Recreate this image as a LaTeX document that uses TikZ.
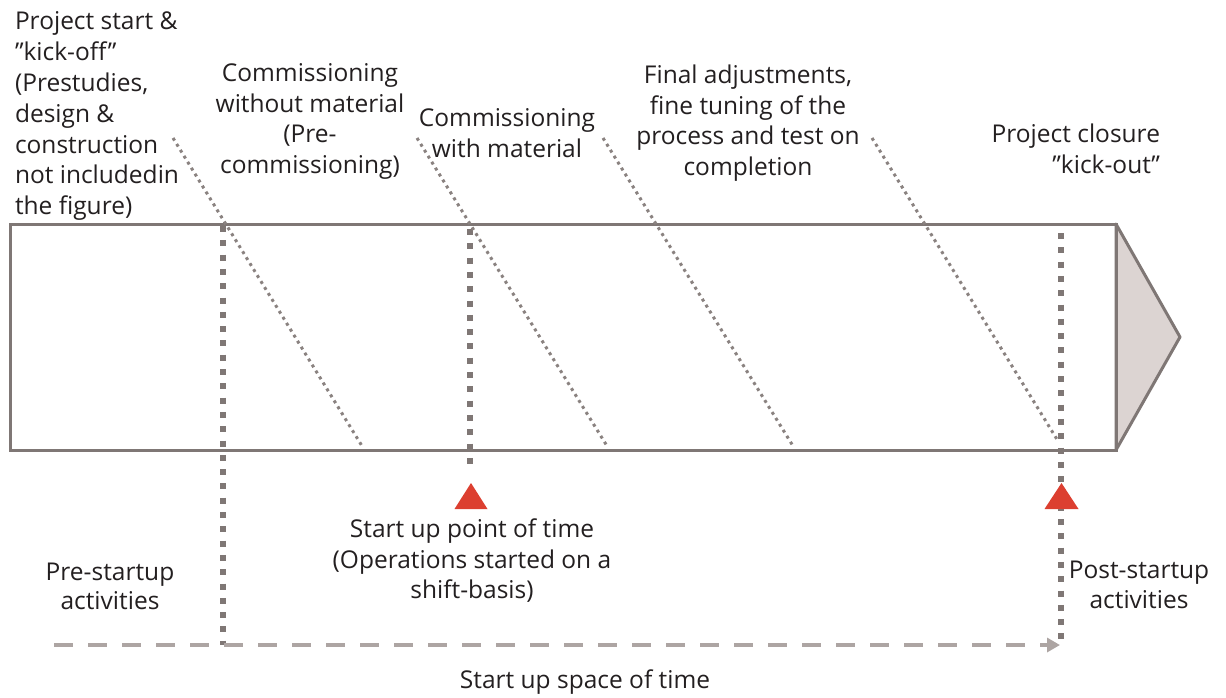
\documentclass[tikz,border=0pt]{standalone}
\usepackage{fontspec}
\setmainfont{Open Sans}
\usetikzlibrary{arrows.meta}
\definecolor{framec}{HTML}{7F7775}
\definecolor{fillg}{HTML}{DCD4D2}
\definecolor{dashc}{HTML}{ADA5A3}
\definecolor{diagc}{HTML}{8A8280}
\definecolor{redm}{HTML}{DC3F30}
\definecolor{txtc}{HTML}{231F20}
\begin{document}
\begin{tikzpicture}[x=1pt,y=-1pt,
  lbl/.style={inner sep=0pt, outer sep=0pt, text=txtc, font=\fontsize{24.5}{30.5}\selectfont, align=center},
  boxline/.style={draw=framec, line width=3pt},
  milestone/.style={draw=framec, line width=6pt, dash pattern=on 6pt off 8.3pt},
  phase/.style={draw=diagc, line width=3pt, dash pattern=on 3pt off 4pt},
  timeline/.style={draw=dashc, line width=4.5pt, dash pattern=on 19pt off 15pt, -{Triangle[length=13pt,width=14pt]}},
  marker/.style={fill=redm}]
\useasboundingbox (0,0) rectangle (1226,697);

% main bar
\coordinate (tl) at (10,224);
\coordinate (br) at (1116,450);
\coordinate (tr) at (1116,224);
\coordinate (tip) at (1180,337);
\coordinate (brr) at (1116,450);
\draw[boxline, fill=fillg, line join=round] (tr) -- (tip) -- (brr) -- cycle;
\draw[boxline] (tl) rectangle (br);

% milestone lines
\coordinate (m1t) at (223,226);
\coordinate (m1b) at (223,645);
\coordinate (m2t) at (470,229);
\coordinate (m2b) at (470,470);
\coordinate (m3t) at (1061,233);
\coordinate (m3b) at (1061,642);
\draw[milestone] (m1t) -- (m1b);
\draw[milestone] (m2t) -- (m2b);
\draw[milestone] (m3t) -- (m3b);

% phase diagonals
\coordinate (d1a) at (173,138);
\coordinate (d1b) at (362,446);
\coordinate (d2a) at (417,138);
\coordinate (d2b) at (607,446);
\coordinate (d3a) at (603,138);
\coordinate (d3b) at (793,446);
\coordinate (d4a) at (872,138);
\coordinate (d4b) at (1058,441);
\draw[phase] (d1a) -- (d1b);
\draw[phase] (d2a) -- (d2b);
\draw[phase] (d3a) -- (d3b);
\draw[phase] (d4a) -- (d4b);

% red triangles
\coordinate (r1) at (471,483);
\coordinate (r2) at (1061.5,483);
\fill[marker] (r1) -- ++(16.5,26) -- ++(-33,0) -- cycle;
\fill[marker] (r2) -- ++(17,26) -- ++(-34,0) -- cycle;

% timeline
\coordinate (ts) at (54,645);
\coordinate (te) at (1060,645);
\draw[timeline] (ts) -- (te);

% texts
\node[lbl, align=left, anchor=north west, font=\fontsize{24.5}{30.8}\selectfont] (tstart) at (15,12)
  {Project start \&\\”kick-off”\\(Prestudies,\\design \&\\construction\\not includedin\\the figure)};
\node[lbl, anchor=north] (twithout) at (310,64)
  {Commissioning\\without material\\(Pre-\\commissioning)};
\node[lbl, anchor=north] (twith) at (507,109)
  {Commissioning\\with material};
\node[lbl, anchor=north] (tfinal) at (748,65)
  {Final adjustments,\\fine tuning of the\\process and test on\\completion};
\node[lbl, align=right, anchor=north east] (tclose) at (1160,124)
  {Project closure\\”kick-out”};
\node[lbl, anchor=north] (tpoint) at (472,519)
  {Start up point of time\\(Operations started on a\\shift-basis)};
\node[lbl, anchor=north, font=\fontsize{24.5}{29}\selectfont] (tpre) at (110,563)
  {Pre-startup\\activities};
\node[lbl, anchor=north, font=\fontsize{24.5}{30}\selectfont] (tpost) at (1139,561)
  {Post-startup\\activities};
\node[lbl, anchor=north] (tspace) at (585,670)
  {Start up space of time};
\end{tikzpicture}
\end{document}
